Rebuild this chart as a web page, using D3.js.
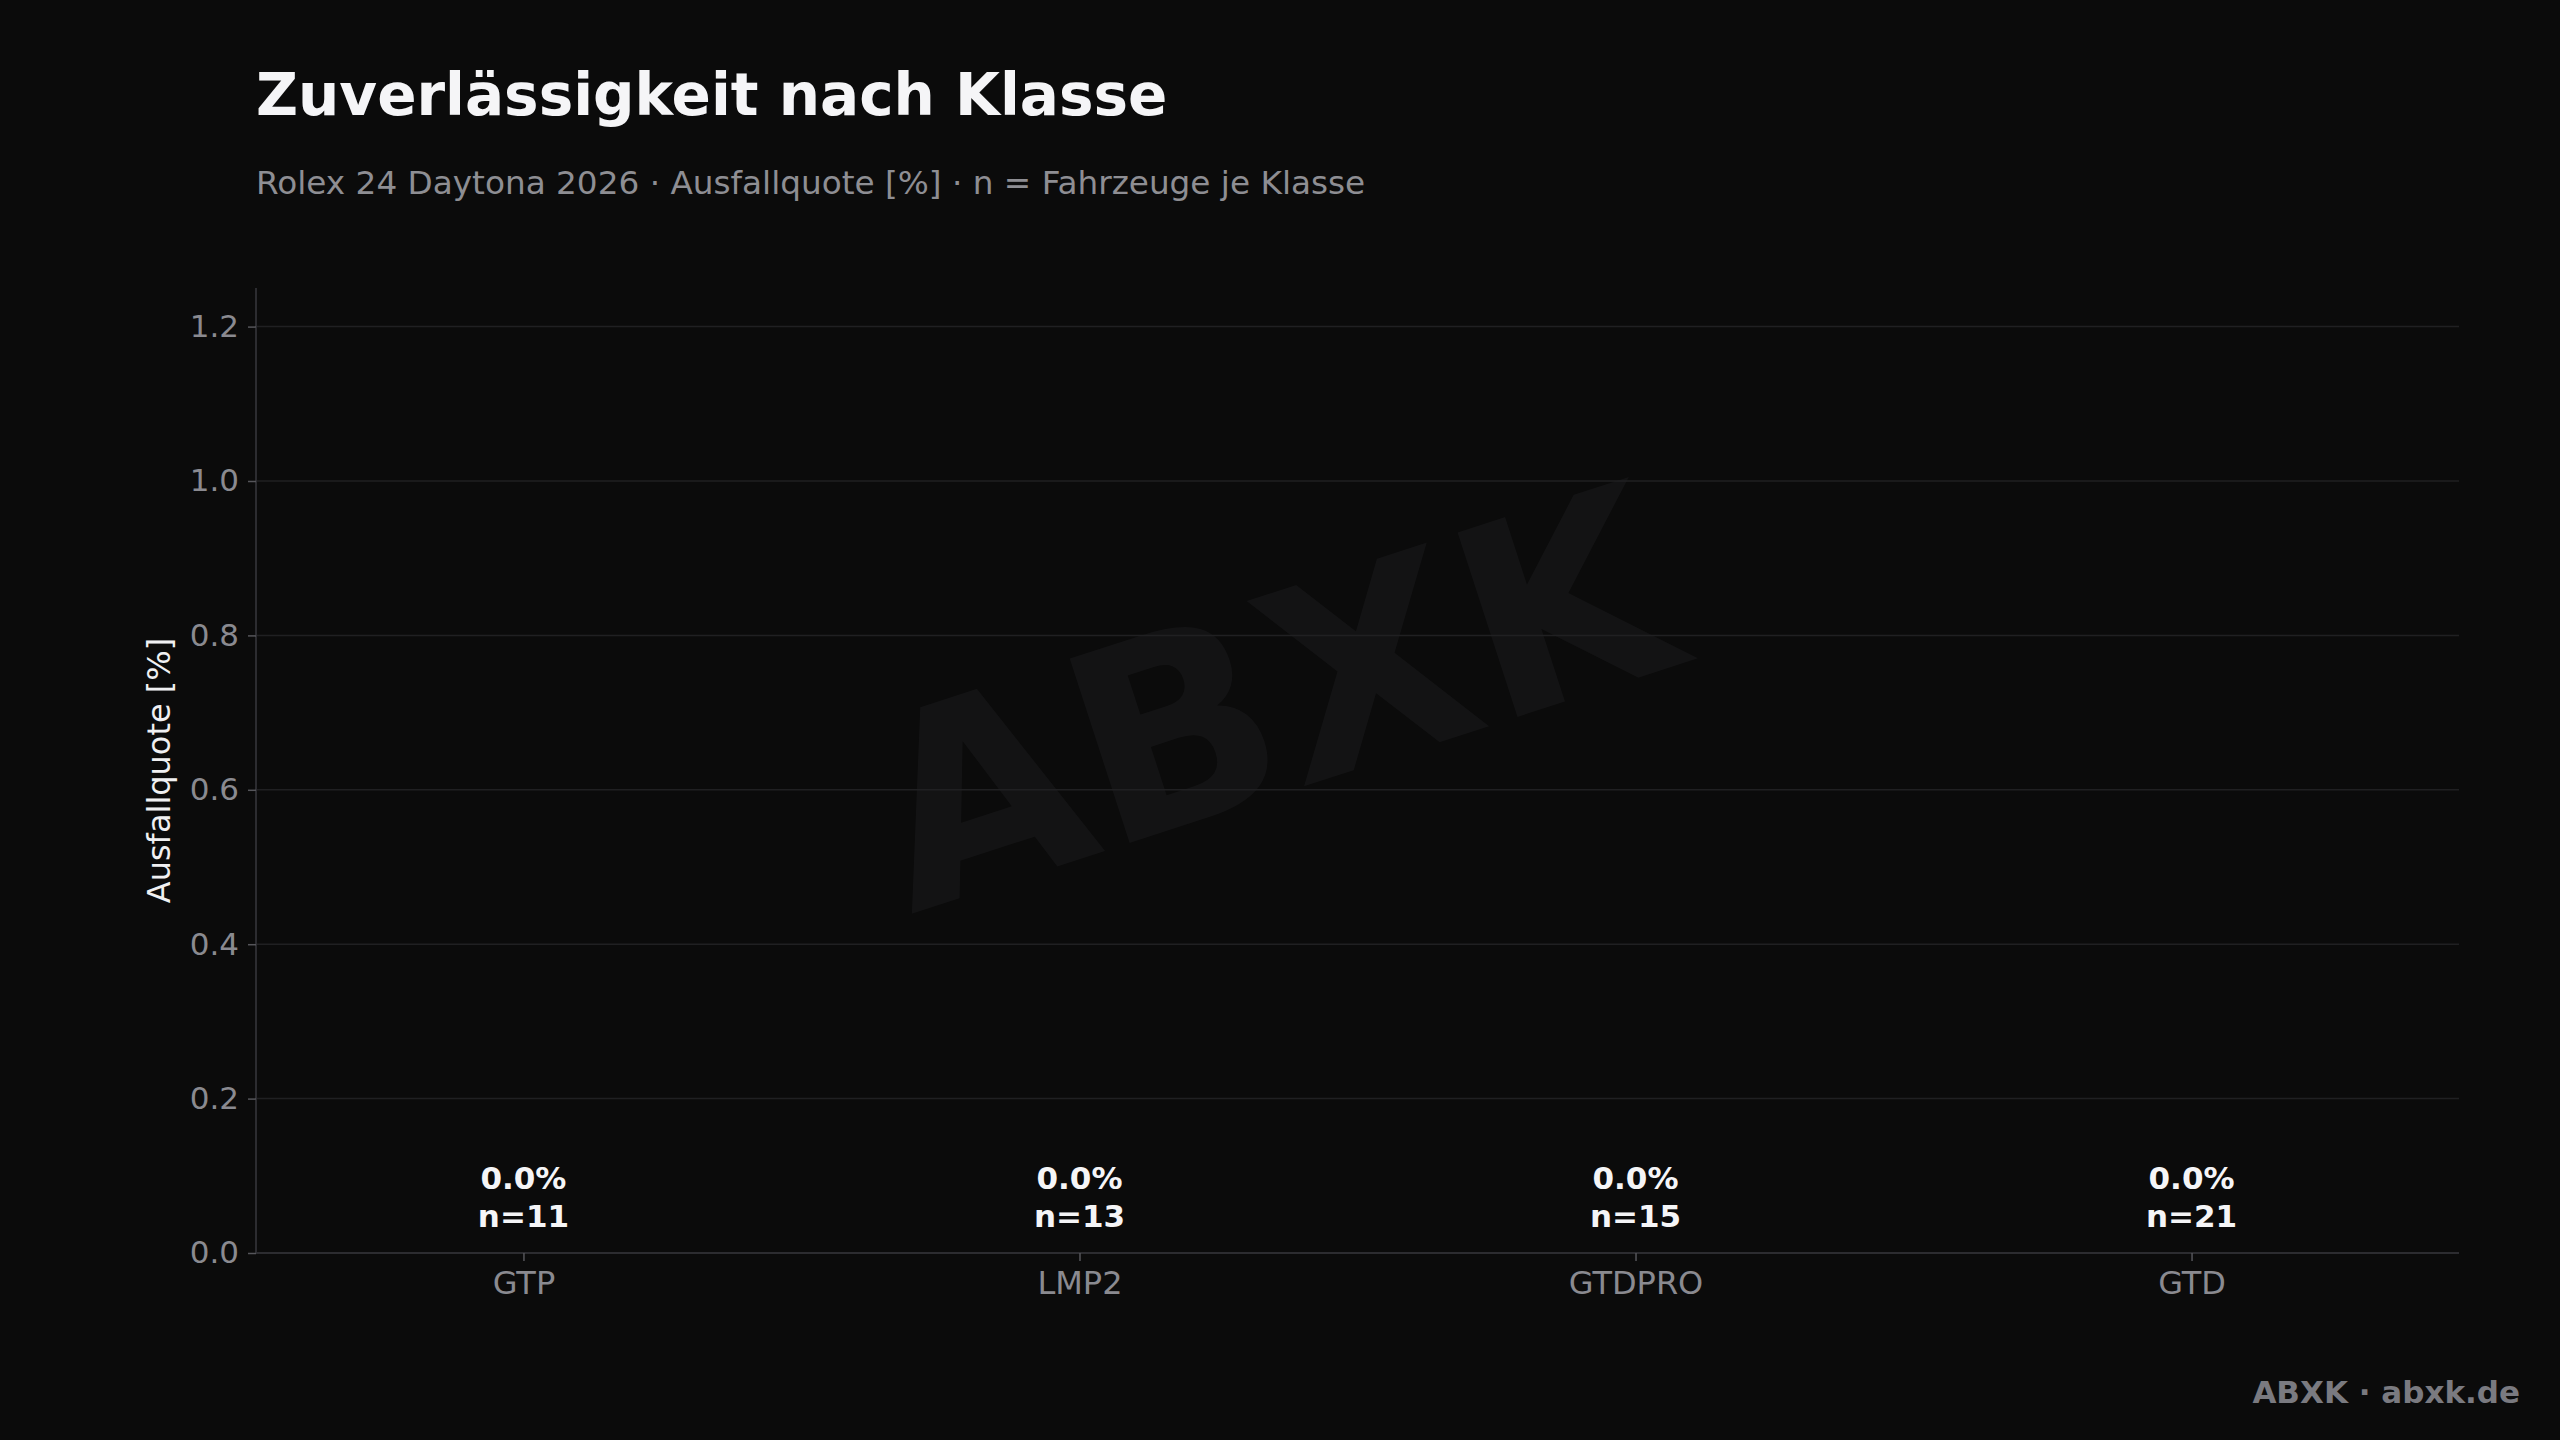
<!DOCTYPE html>
<html>
<head>
<meta charset="utf-8">
<script src="https://cdn.jsdelivr.net/npm/d3@7"></script>
<style>
  html, body { margin: 0; padding: 0; background: #0b0b0b; }
  svg { display: block; }
  text { font-family: "DejaVu Sans", sans-serif; }
</style>
</head>
<body>
<script>
const categories = ["GTP", "LMP2", "GTDPRO", "GTD"];
const failureRates = [0.0, 0.0, 0.0, 0.0];
const carCounts = [11, 13, 15, 21];
const yTicks = [0.0, 0.2, 0.4, 0.6, 0.8, 1.0, 1.2];

const W = 2560, H = 1440;
const margin = { left: 256, right: 2560 - 2459, top: 288, bottom: 1440 - 1253 };

const svg = d3.select("body").append("svg").attr("width", W).attr("height", H);
svg.append("rect").attr("width", W).attr("height", H).attr("fill", "#0b0b0b");

// watermark
svg.append("text")
  .attr("transform", `translate(1272,700) rotate(-18)`)
  .attr("text-anchor", "middle")
  .attr("dominant-baseline", "central")
  .attr("font-weight", "bold")
  .attr("font-size", 266)
  .attr("fill", "#e6e6ff")
  .attr("fill-opacity", 0.04)
  .text("ABXK");

const x = d3.scalePoint().domain(categories).range([margin.left, W - margin.right]).padding(0.481);
const y = d3.scaleLinear().domain([0, 1.25]).range([H - margin.bottom, margin.top]);

// grid
svg.append("g").selectAll("line").data(yTicks).join("line")
  .attr("x1", margin.left).attr("x2", W - margin.right)
  .attr("y1", d => y(d)).attr("y2", d => y(d))
  .attr("stroke", "#202022").attr("stroke-width", 1.5);

// bars (zero height)
const bw = x.step() * 0.6;
svg.append("g").selectAll("rect").data(categories).join("rect")
  .attr("x", d => x(d) - bw / 2)
  .attr("width", bw)
  .attr("y", (d, i) => y(failureRates[i]))
  .attr("height", (d, i) => y(0) - y(failureRates[i]))
  .attr("fill", "#e10600");

// y axis
const yAxis = svg.append("g").attr("transform", `translate(${margin.left},0)`)
  .call(d3.axisLeft(y).tickValues(yTicks).tickFormat(d3.format(".1f")).tickSize(8).tickPadding(9));
yAxis.select(".domain").attr("stroke", "#2c2c30").attr("stroke-width", 2).attr("d", `M0,${margin.top}V${H - margin.bottom}`);
yAxis.selectAll(".tick line").attr("stroke", "#55555a").attr("stroke-width", 1.5);
yAxis.selectAll(".tick text").attr("fill", "#8a8a90").attr("font-size", 31).attr("font-family", "DejaVu Sans");

// x axis
const xAxis = svg.append("g").attr("transform", `translate(0,${H - margin.bottom})`)
  .call(d3.axisBottom(x).tickSize(8).tickPadding(10));
xAxis.select(".domain").attr("stroke", "#2c2c30").attr("stroke-width", 2).attr("d", `M${margin.left},0H${W - margin.right}`);
xAxis.selectAll(".tick line").attr("stroke", "#55555a").attr("stroke-width", 1.5);
xAxis.selectAll(".tick text").attr("fill", "#8a8a90").attr("font-size", 32).attr("font-family", "DejaVu Sans");

// value labels
const lab = svg.append("g").selectAll("text").data(categories).join("text")
  .attr("x", d => x(d))
  .attr("text-anchor", "middle")
  .attr("font-weight", "bold")
  .attr("font-size", 31)
  .attr("fill", "#f5f5f7");
lab.append("tspan").attr("x", d => x(d)).attr("y", (d, i) => y(failureRates[i]) - 64)
  .text((d, i) => failureRates[i].toFixed(1) + "%");
lab.append("tspan").attr("x", d => x(d)).attr("y", (d, i) => y(failureRates[i]) - 26)
  .text((d, i) => "n=" + carCounts[i]);

// y label
svg.append("text")
  .attr("transform", `translate(170,${(margin.top + H - margin.bottom) / 2}) rotate(-90)`)
  .attr("text-anchor", "middle")
  .attr("font-size", 32)
  .attr("fill", "#f0f0f2")
  .text("Ausfallquote [%]");

// title & subtitle
svg.append("text").attr("x", 256).attr("y", 115)
  .attr("font-weight", "bold").attr("font-size", 58).attr("fill", "#f5f5f7")
  .text("Zuverlässigkeit nach Klasse");
svg.append("text").attr("x", 256).attr("y", 194)
  .attr("font-size", 32.7).attr("fill", "#8e8e93")
  .text("Rolex 24 Daytona 2026 · Ausfallquote [%] · n = Fahrzeuge je Klasse");

// footer
svg.append("text").attr("x", 2520).attr("y", 1403)
  .attr("text-anchor", "end").attr("font-weight", "bold").attr("font-size", 31).attr("fill", "#7a7a80")
  .text("ABXK · abxk.de");
</script>
</body>
</html>
